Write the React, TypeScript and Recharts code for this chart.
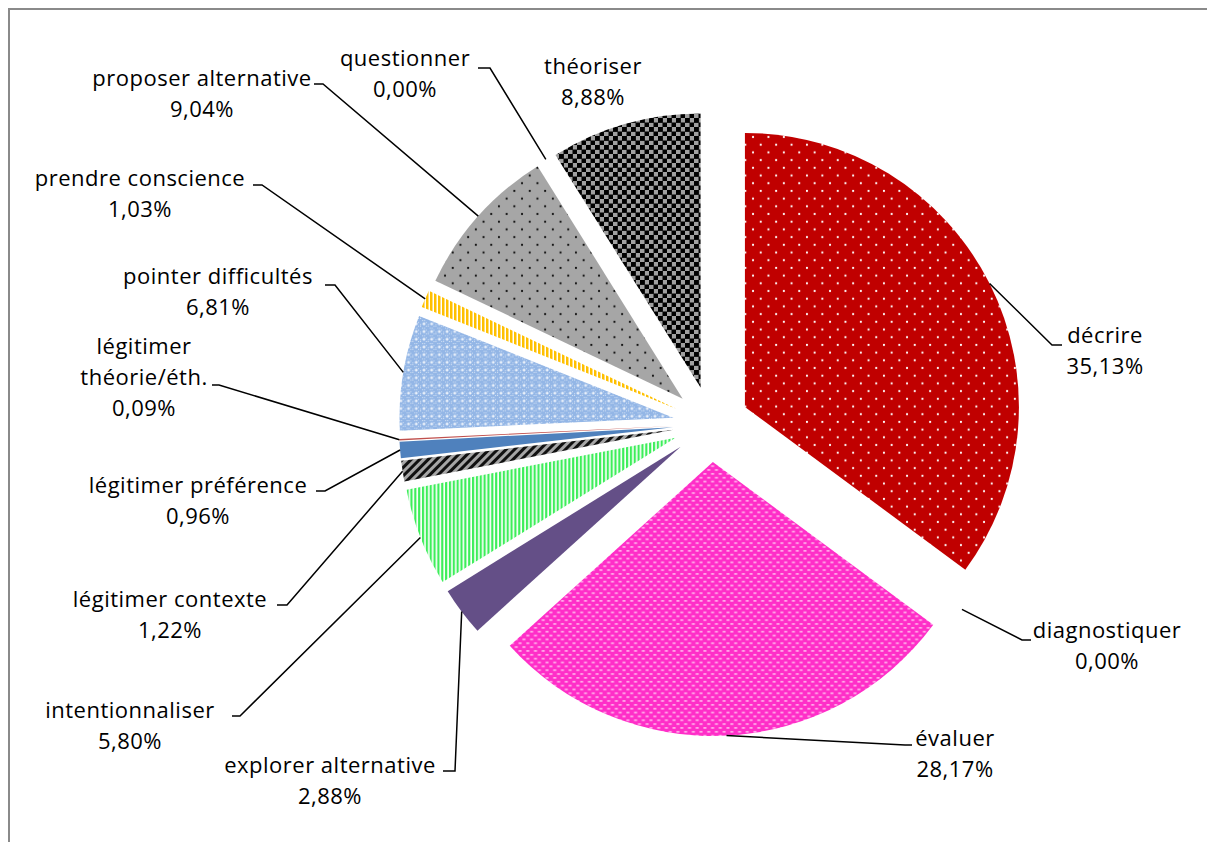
import React from 'react';
import { PieChart, Pie, Cell } from 'recharts';

// ---- data ----
const categories = [
  'décrire',
  'diagnostiquer',
  'évaluer',
  'explorer alternative',
  'intentionnaliser',
  'légitimer contexte',
  'légitimer préférence',
  'légitimer théorie/éth.',
  'pointer difficultés',
  'prendre conscience',
  'proposer alternative',
  'questionner',
  'théoriser',
];
const values = [35.13, 0.0, 28.17, 2.88, 5.8, 1.22, 0.96, 0.09, 6.81, 1.03, 9.04, 0.0, 8.88];
// how each category name is broken into lines in its label
const nameLines = [
  ['décrire'],
  ['diagnostiquer'],
  ['évaluer'],
  ['explorer alternative'],
  ['intentionnaliser'],
  ['légitimer contexte'],
  ['légitimer préférence'],
  ['légitimer', 'théorie/éth.'],
  ['pointer difficultés'],
  ['prendre conscience'],
  ['proposer alternative'],
  ['questionner'],
  ['théoriser'],
];

// ---- styles / layout ----
const fills = [
  'url(#pDecrire)',
  '#888888',
  'url(#pEvaluer)',
  '#644F87',
  'url(#pIntent)',
  'url(#pContexte)',
  '#4F81BD',
  '#C0504D',
  'url(#pPointer)',
  'url(#pPrendre)',
  'url(#pProposer)',
  '#888888',
  'url(#pTheoriser)',
];
// label layout in page pixels: text centre x, first baseline y, leader elbow x/y, tick end x
const labelX = [1105, 1107, 955, 330, 130, 170, 198, 144, 218, 140, 202, 405, 593];
const labelY = [343, 638, 746, 773, 718, 607, 493, 354, 284, 186, 86, 66, 74];
const elbowX = [1052, 1022, 905, 455, 240, 287, 325, 219, 335, 262, 323, 490, null];
const elbowY = [345, 640, 745, 771, 716, 605, 491, 385, 285, 185, 84, 68, null];
const tickX = [1062, 1031, 912, 443, 232, 277, 316, 212, 325, 253, 314, 478, null];

const W = 1205;
const H = 832;
const OFF = 10; // page offset of svg origin (8px body margin + 2px border)
const CX = 711 - OFF;
const CY = 424 - OFF;
const R = 274;
const EXPLODE = 38;
const LINE = 31;
const RAD = Math.PI / 180;
const FONT = '"Open Sans", Lato, sans-serif';

const data = categories.map((name, i) => ({ name, value: values[i] }));
const total = values.reduce((a, b) => a + b, 0);
const midAngles = values.map((v, i) => {
  const before = values.slice(0, i).reduce((a, b) => a + b, 0);
  return 90 - (360 * (before + v / 2)) / total;
});

const fmt = (v: number) => v.toFixed(2).replace('.', ',') + '%';

const renderLabel = (props: any) => {
  const { cx, cy, midAngle, outerRadius, index } = props;
  const r = outerRadius + EXPLODE;
  const px = cx + r * Math.cos(-midAngle * RAD);
  const py = cy + r * Math.sin(-midAngle * RAD);
  const lines = [...nameLines[index], fmt(values[index])];
  const ex = elbowX[index];
  const ey = elbowY[index];
  const tx = tickX[index];
  return (
    <g key={`lab-${index}`}>
      {ex != null && ey != null && tx != null && (
        <polyline
          points={`${px},${py} ${ex - OFF},${ey - OFF} ${tx - OFF},${ey - OFF}`}
          fill="none"
          stroke="#000"
          strokeWidth={1.5}
        />
      )}
      <text
        textAnchor="middle"
        fontFamily={FONT}
        fontSize={22}
        letterSpacing={0.5}
        fill="#000"
      >
        {lines.map((t, k) => (
          <tspan key={k} x={labelX[index] - OFF} y={labelY[index] - OFF + k * LINE}>
            {t}
          </tspan>
        ))}
      </text>
    </g>
  );
};

export default function App() {
  return (
    <div
      style={{
        width: 1207,
        height: 834,
        borderTop: '2px solid #8a8a8a',
        borderLeft: '2px solid #8a8a8a',
        boxSizing: 'border-box',
        overflow: 'hidden',
        background: '#fff',
      }}
    >
      <PieChart width={W} height={H} margin={{ top: 0, right: 0, bottom: 0, left: 0 }}>
        <defs>
          <pattern id="pDecrire" width="15.4" height="15.4" patternUnits="userSpaceOnUse">
            <rect width="15.4" height="15.4" fill="#C00000" />
            <circle cx="3.85" cy="3.85" r="1.1" fill="#fff" />
            <circle cx="11.55" cy="11.55" r="1.1" fill="#fff" />
          </pattern>
          <pattern id="pEvaluer" width="7.7" height="7.7" patternUnits="userSpaceOnUse">
            <rect width="7.7" height="7.7" fill="#FF2EC8" />
            <rect x="0.4" y="1.2" width="3" height="1.3" fill="#FFD6F4" />
            <rect x="4.25" y="5.05" width="3" height="1.3" fill="#FFD6F4" />
          </pattern>
          <pattern id="pIntent" width="3.85" height="8" patternUnits="userSpaceOnUse">
            <rect width="3.85" height="8" fill="#ffffff" />
            <rect width="2.2" height="8" fill="#3DEE5A" />
          </pattern>
          <pattern
            id="pContexte"
            width="6"
            height="6"
            patternUnits="userSpaceOnUse"
            patternTransform="rotate(45)"
          >
            <rect width="6" height="6" fill="#A6A6A6" />
            <rect width="3" height="6" fill="#111" />
          </pattern>
          <pattern id="pPointer" width="7.7" height="7.7" patternUnits="userSpaceOnUse">
            <rect width="7.7" height="7.7" fill="#93B6E6" />
            <rect x="0" y="0" width="1" height="1" fill="#D6E4F6" />
            <rect x="2" y="0" width="1" height="1" fill="#D6E4F6" />
            <rect x="4" y="2" width="1" height="1" fill="#D6E4F6" />
            <rect x="6" y="2" width="1" height="1" fill="#D6E4F6" />
            <rect x="0" y="4" width="1" height="1" fill="#D6E4F6" />
            <rect x="2" y="6" width="1" height="1" fill="#D6E4F6" />
            <rect x="4.35" y="5.35" width="3" height="1" fill="#fff" />
            <rect x="5.35" y="4.35" width="1" height="3" fill="#fff" />
          </pattern>
          <pattern id="pPrendre" width="4" height="8" patternUnits="userSpaceOnUse">
            <rect width="4" height="8" fill="#ffffff" />
            <rect width="2.5" height="8" fill="#FFC000" />
          </pattern>
          <pattern id="pProposer" width="15.4" height="15.4" patternUnits="userSpaceOnUse">
            <rect width="15.4" height="15.4" fill="#A6A6A6" />
            <circle cx="3.85" cy="3.85" r="1.1" fill="#111" />
            <circle cx="11.55" cy="11.55" r="1.1" fill="#111" />
          </pattern>
          <pattern id="pTheoriser" width="9" height="9" patternUnits="userSpaceOnUse">
            <rect width="9" height="9" fill="#A0A0A0" />
            <rect x="0" y="0" width="4.9" height="4.9" fill="#000" />
            <rect x="4.5" y="4.5" width="4.9" height="4.9" fill="#000" />
          </pattern>
        </defs>
        {categories.map((_, i) => (
          <Pie
            key={`slice-${i}`}
            data={data}
            dataKey="value"
            nameKey="name"
            cx={CX + EXPLODE * Math.cos(midAngles[i] * RAD)}
            cy={CY - EXPLODE * Math.sin(midAngles[i] * RAD)}
            outerRadius={R}
            innerRadius={0}
            startAngle={90}
            endAngle={-270}
            stroke="none"
            isAnimationActive={false}
            labelLine={false}
            label={false}
          >
            {data.map((_, j) => (
              <Cell key={`c-${i}-${j}`} fill={j === i ? fills[j] : 'none'} stroke="none" />
            ))}
          </Pie>
        ))}
        <Pie
          data={data}
          dataKey="value"
          nameKey="name"
          cx={CX}
          cy={CY}
          outerRadius={R}
          innerRadius={0}
          startAngle={90}
          endAngle={-270}
          stroke="none"
          isAnimationActive={false}
          labelLine={false}
          label={renderLabel}
        >
          {data.map((_, j) => (
            <Cell key={`l-${j}`} fill="none" stroke="none" />
          ))}
        </Pie>
      </PieChart>
    </div>
  );
}
